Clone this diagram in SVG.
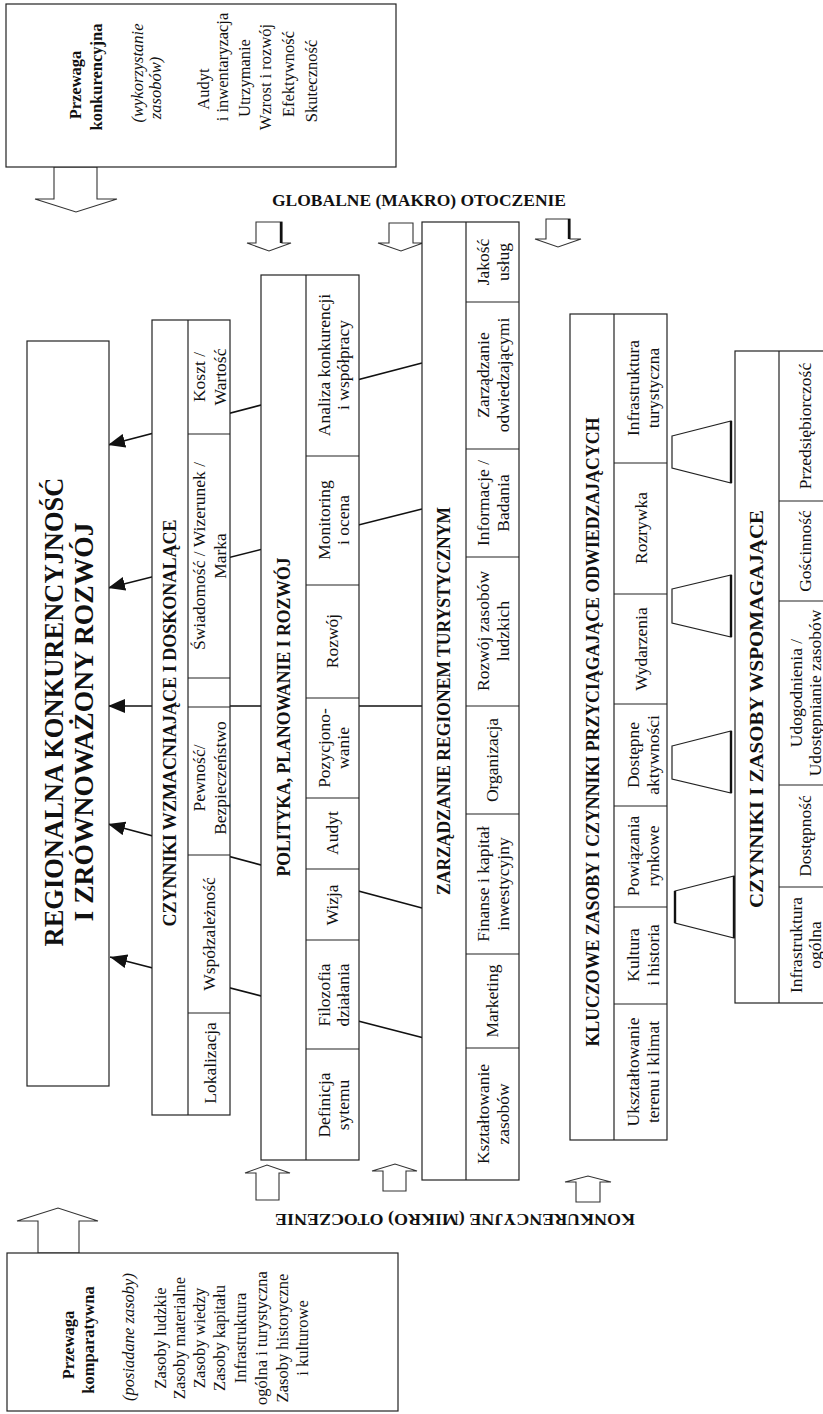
<svg xmlns="http://www.w3.org/2000/svg" width="823" height="1414" viewBox="0 0 823 1414">
  <defs>
    <style>
      text{font-family:"Liberation Serif","Times New Roman",serif;fill:#111}
      .v{text-anchor:middle;dominant-baseline:central}
      .c{font-size:17.5px}
      .s{font-size:16.5px}
      .hd{font-size:18px;font-weight:bold}
      .b{font-weight:bold}
      .it{font-style:italic}
      .box{fill:#fff;stroke:#222;stroke-width:1.2}
      .ln{fill:none;stroke:#222;stroke-width:1.2}
      .con{fill:none;stroke:#111;stroke-width:1.6}
      .blk{fill:#fff;stroke:#333;stroke-width:1.1}
      .thk{fill:none;stroke:#111;stroke-width:2.4}
    </style>
    <marker id="tip" viewBox="0 0 17 14" refX="17" refY="7" markerWidth="17" markerHeight="14" markerUnits="userSpaceOnUse" orient="auto">
      <path d="M0,0 L17,7 L0,14 z" fill="#111"/>
    </marker>
  </defs>
  <rect width="823" height="1414" fill="#fff"/>

  <!-- connectors: arrows into the main box, block arrows, trapezoid links -->
  <g id="connectors">
    <line class="con" x1="422" y1="363" x2="108" y2="445" marker-end="url(#tip)"/>
    <line class="con" x1="422" y1="509" x2="108" y2="588" marker-end="url(#tip)"/>
    <line class="con" x1="422" y1="706" x2="108" y2="706" marker-end="url(#tip)"/>
    <line class="con" x1="422" y1="908" x2="108" y2="824" marker-end="url(#tip)"/>
    <line class="con" x1="424" y1="1038" x2="110" y2="957" marker-end="url(#tip)"/>

    <!-- large block arrows -->
    <polygon class="blk" points="54,167 54,199 35,199 76,212 117,199 97,199 97,167"/>
    <polygon class="blk" points="38,1253 38,1221 17,1221 58,1208 98,1221 79,1221 79,1253"/>

    <!-- macro environment arrows (down) -->
    <polygon class="blk" points="256,222 256,243 247,243 269,251 291,243 282,243 282,222"/>
    <polygon class="blk" points="389,223 389,243 378,243 401,251 423,243 413,243 413,223"/>
    <polygon class="blk" points="546,219 546,239 535,239 558,247 581,239 570,239 570,219"/>
    <line class="thk" x1="281" y1="222" x2="281" y2="243"/>
    <line class="thk" x1="569" y1="219" x2="569" y2="239"/>

    <!-- micro environment arrows (up) -->
    <polygon class="blk" points="256,1200 256,1173 245,1173 267,1165 290,1173 279,1173 279,1200"/>
    <polygon class="blk" points="383,1191 383,1171 372,1171 395,1164 417,1171 406,1171 406,1191"/>
    <polygon class="blk" points="576,1202 576,1182 565,1182 588,1176 611,1182 600,1182 600,1202"/>

    <!-- links between key resources and supporting factors -->
    <polygon class="ln" points="672,436 731,421 731,483 672,468"/>
    <polygon class="ln" points="672,589 731,575 731,637 672,623"/>
    <polygon class="ln" points="672,746 731,731 731,793 672,779"/>
    <polygon class="ln" points="675,891 734,876 734,938 675,923"/>
    <line class="thk" x1="731" y1="421" x2="731" y2="483"/>
    <line class="thk" x1="731" y1="575" x2="731" y2="637"/>
    <line class="thk" x1="731" y1="731" x2="731" y2="793"/>
    <line class="thk" x1="734" y1="876" x2="734" y2="938"/>
    <line class="thk" x1="675" y1="891" x2="675" y2="923"/>
  </g>

  <!-- environment labels -->
  <text id="makro" x="419" y="206" text-anchor="middle" font-size="17" font-weight="bold" textLength="294" lengthAdjust="spacingAndGlyphs">GLOBALNE (MAKRO) OTOCZENIE</text>
  <text id="mikro" transform="translate(455 1214) rotate(180)" text-anchor="middle" font-size="17" font-weight="bold" textLength="360" lengthAdjust="spacingAndGlyphs">KONKURENCYJNE (MIKRO) OTOCZENIE</text>

  <!-- competitive advantage -->
  <g id="przewaga-konkurencyjna">
    <rect class="box" x="6" y="4" width="390" height="163"/>
    <text class="v s b" transform="translate(75 85) rotate(-90)">Przewaga</text>
    <text class="v s b" transform="translate(96 77) rotate(-90)">konkurencyjna</text>
    <text class="v s it" transform="translate(137 73) rotate(-90)">(wykorzystanie</text>
    <text class="v s it" transform="translate(155 88) rotate(-90)">zasobów)</text>
    <text class="v s" transform="translate(203 89) rotate(-90)">Audyt</text>
    <text class="v s" transform="translate(222 67) rotate(-90)">i inwentaryzacja</text>
    <text class="v s" transform="translate(244 78) rotate(-90)">Utrzymanie</text>
    <text class="v s" transform="translate(265 77) rotate(-90)">Wzrost i rozwój</text>
    <text class="v s" transform="translate(288 74) rotate(-90)">Efektywność</text>
    <text class="v s" transform="translate(311 81) rotate(-90)">Skuteczność</text>
  </g>

  <!-- comparative advantage -->
  <g id="przewaga-komparatywna">
    <rect class="box" x="7" y="1253" width="391" height="158"/>
    <text class="v s b" transform="translate(68 1345) rotate(-90)">Przewaga</text>
    <text class="v s b" transform="translate(88 1340) rotate(-90)">komparatywna</text>
    <text class="v s it" transform="translate(128 1337) rotate(-90)">(posiadane zasoby)</text>
    <text class="v s" transform="translate(160 1338) rotate(-90)">Zasoby ludzkie</text>
    <text class="v s" transform="translate(179 1338) rotate(-90)">Zasoby materialne</text>
    <text class="v s" transform="translate(199 1338) rotate(-90)">Zasoby wiedzy</text>
    <text class="v s" transform="translate(219 1338) rotate(-90)">Zasoby kapitału</text>
    <text class="v s" transform="translate(240 1338) rotate(-90)">Infrastruktura</text>
    <text class="v s" transform="translate(261 1338) rotate(-90)">ogólna i turystyczna</text>
    <text class="v s" transform="translate(282 1338) rotate(-90)">Zasoby historyczne</text>
    <text class="v s" transform="translate(302 1338) rotate(-90)">i kulturowe</text>
  </g>

  <!-- regional competitiveness -->
  <g id="konkurencyjnosc">
    <rect class="box" x="27" y="341" width="82" height="745"/>
    <text class="v b" font-size="27" transform="translate(54 712) rotate(-90)" textLength="469" lengthAdjust="spacingAndGlyphs">REGIONALNA KONKURENCYJNOŚĆ</text>
    <text class="v b" font-size="27" transform="translate(84 722) rotate(-90)" textLength="399" lengthAdjust="spacingAndGlyphs">I ZRÓWNOWAŻONY ROZWÓJ</text>
  </g>

  <!-- qualifying and amplifying determinants -->
  <g id="czynniki-wzmacniajace">
    <rect class="box" x="152" y="320" width="78" height="795"/>
    <line class="ln" x1="188" y1="320" x2="188" y2="1115"/>
    <line class="ln" x1="188" y1="434" x2="230" y2="434"/>
    <line class="ln" x1="188" y1="678" x2="230" y2="678"/>
    <line class="ln" x1="188" y1="707" x2="230" y2="707"/>
    <line class="ln" x1="188" y1="855" x2="230" y2="855"/>
    <line class="ln" x1="188" y1="1013" x2="230" y2="1013"/>
    <text class="v hd" transform="translate(170 723) rotate(-90)" textLength="407" lengthAdjust="spacingAndGlyphs">CZYNNIKI WZMACNIAJĄCE I DOSKONALĄCE</text>
    <text class="v c" transform="translate(199 377) rotate(-90)">Koszt /</text>
    <text class="v c" transform="translate(220 377) rotate(-90)">Wartość</text>
    <text class="v c" transform="translate(199 556) rotate(-90)">Świadomość / Wizerunek /</text>
    <text class="v c" transform="translate(220 556) rotate(-90)">Marka</text>
    <text class="v c" transform="translate(199 778) rotate(-90)">Pewność/</text>
    <text class="v c" transform="translate(220 778) rotate(-90)">Bezpieczeństwo</text>
    <text class="v c" transform="translate(209 934) rotate(-90)">Współzależność</text>
    <text class="v c" transform="translate(210 1063) rotate(-90)">Lokalizacja</text>
  </g>

  <!-- policy, planning and development -->
  <g id="polityka">
    <rect class="box" x="261" y="275" width="98" height="885"/>
    <line class="ln" x1="306" y1="275" x2="306" y2="1160"/>
    <line class="ln" x1="306" y1="456" x2="359" y2="456"/>
    <line class="ln" x1="306" y1="585" x2="359" y2="585"/>
    <line class="ln" x1="306" y1="698" x2="359" y2="698"/>
    <line class="ln" x1="306" y1="798" x2="359" y2="798"/>
    <line class="ln" x1="306" y1="869" x2="359" y2="869"/>
    <line class="ln" x1="306" y1="940" x2="359" y2="940"/>
    <line class="ln" x1="306" y1="1049" x2="359" y2="1049"/>
    <text class="v hd" transform="translate(283.5 717) rotate(-90)" textLength="319" lengthAdjust="spacingAndGlyphs">POLITYKA, PLANOWANIE I ROZWÓJ</text>
    <text class="v c" transform="translate(324 365) rotate(-90)">Analiza konkurencji</text>
    <text class="v c" transform="translate(343 365) rotate(-90)">i współpracy</text>
    <text class="v c" transform="translate(324 520) rotate(-90)">Monitoring</text>
    <text class="v c" transform="translate(343 520) rotate(-90)">i ocena</text>
    <text class="v c" transform="translate(332 641) rotate(-90)">Rozwój</text>
    <text class="v c" transform="translate(324 748) rotate(-90)">Pozycjono-</text>
    <text class="v c" transform="translate(343 748) rotate(-90)">wanie</text>
    <text class="v c" transform="translate(332 833) rotate(-90)">Audyt</text>
    <text class="v c" transform="translate(332 905) rotate(-90)">Wizja</text>
    <text class="v c" transform="translate(324 995) rotate(-90)">Filozofia</text>
    <text class="v c" transform="translate(343 995) rotate(-90)">działania</text>
    <text class="v c" transform="translate(324 1105) rotate(-90)">Definicja</text>
    <text class="v c" transform="translate(343 1105) rotate(-90)">sytemu</text>
  </g>

  <!-- destination management -->
  <g id="zarzadzanie">
    <rect class="box" x="422" y="222" width="97" height="958"/>
    <line class="ln" x1="466" y1="222" x2="466" y2="1180"/>
    <line class="ln" x1="466" y1="302" x2="519" y2="302"/>
    <line class="ln" x1="466" y1="449" x2="519" y2="449"/>
    <line class="ln" x1="466" y1="557" x2="519" y2="557"/>
    <line class="ln" x1="466" y1="706" x2="519" y2="706"/>
    <line class="ln" x1="466" y1="814" x2="519" y2="814"/>
    <line class="ln" x1="466" y1="954" x2="519" y2="954"/>
    <line class="ln" x1="466" y1="1048" x2="519" y2="1048"/>
    <text class="v hd" transform="translate(444 701) rotate(-90)" textLength="388" lengthAdjust="spacingAndGlyphs">ZARZĄDZANIE REGIONEM TURYSTYCZNYM</text>
    <text class="v c" transform="translate(483 262) rotate(-90)">Jakość</text>
    <text class="v c" transform="translate(503 262) rotate(-90)">usług</text>
    <text class="v c" transform="translate(483 375) rotate(-90)">Zarządzanie</text>
    <text class="v c" transform="translate(503 375) rotate(-90)">odwiedzającymi</text>
    <text class="v c" transform="translate(483 503) rotate(-90)">Informacje /</text>
    <text class="v c" transform="translate(503 503) rotate(-90)">Badania</text>
    <text class="v c" transform="translate(483 631) rotate(-90)">Rozwój zasobów</text>
    <text class="v c" transform="translate(503 631) rotate(-90)">ludzkich</text>
    <text class="v c" transform="translate(492 760) rotate(-90)">Organizacja</text>
    <text class="v c" transform="translate(483 884) rotate(-90)">Finanse i kapitał</text>
    <text class="v c" transform="translate(503 884) rotate(-90)">inwestycyjny</text>
    <text class="v c" transform="translate(492 1001) rotate(-90)">Marketing</text>
    <text class="v c" transform="translate(483 1114) rotate(-90)">Kształtowanie</text>
    <text class="v c" transform="translate(503 1114) rotate(-90)">zasobów</text>
  </g>

  <!-- core resources and attractors -->
  <g id="kluczowe-zasoby">
    <rect class="box" x="570" y="314" width="97" height="826"/>
    <line class="ln" x1="614" y1="314" x2="614" y2="1140"/>
    <line class="ln" x1="614" y1="463" x2="667" y2="463"/>
    <line class="ln" x1="614" y1="594" x2="667" y2="594"/>
    <line class="ln" x1="614" y1="704" x2="667" y2="704"/>
    <line class="ln" x1="614" y1="806" x2="667" y2="806"/>
    <line class="ln" x1="614" y1="907" x2="667" y2="907"/>
    <line class="ln" x1="614" y1="1004" x2="667" y2="1004"/>
    <text class="v hd" transform="translate(592.5 732) rotate(-90)" textLength="629" lengthAdjust="spacingAndGlyphs">KLUCZOWE ZASOBY I CZYNNIKI PRZYCIĄGAJĄCE ODWIEDZAJĄCYCH</text>
    <text class="v c" transform="translate(633 388) rotate(-90)">Infrastruktura</text>
    <text class="v c" transform="translate(653 388) rotate(-90)">turystyczna</text>
    <text class="v c" transform="translate(641 528) rotate(-90)">Rozrywka</text>
    <text class="v c" transform="translate(641 649) rotate(-90)">Wydarzenia</text>
    <text class="v c" transform="translate(633 755) rotate(-90)">Dostępne</text>
    <text class="v c" transform="translate(653 755) rotate(-90)">aktywności</text>
    <text class="v c" transform="translate(633 856) rotate(-90)">Powiązania</text>
    <text class="v c" transform="translate(653 856) rotate(-90)">rynkowe</text>
    <text class="v c" transform="translate(633 955) rotate(-90)">Kultura</text>
    <text class="v c" transform="translate(653 955) rotate(-90)">i historia</text>
    <text class="v c" transform="translate(633 1072) rotate(-90)">Ukształtowanie</text>
    <text class="v c" transform="translate(653 1072) rotate(-90)">terenu i klimat</text>
  </g>

  <!-- supporting factors and resources -->
  <g id="czynniki-wspomagajace">
    <rect class="box" x="735" y="351" width="100" height="652"/>
    <line class="ln" x1="779" y1="351" x2="779" y2="1003"/>
    <line class="ln" x1="779" y1="501" x2="823" y2="501"/>
    <line class="ln" x1="779" y1="601" x2="823" y2="601"/>
    <line class="ln" x1="779" y1="785" x2="823" y2="785"/>
    <line class="ln" x1="779" y1="887" x2="823" y2="887"/>
    <text class="v hd" transform="translate(757 709) rotate(-90)" textLength="398" lengthAdjust="spacingAndGlyphs">CZYNNIKI I ZASOBY WSPOMAGAJĄCE</text>
    <text class="v c" transform="translate(805 426) rotate(-90)">Przedsiębiorczość</text>
    <text class="v c" transform="translate(805 551) rotate(-90)">Gościnność</text>
    <text class="v c" transform="translate(796 693) rotate(-90)">Udogodnienia /</text>
    <text class="v c" transform="translate(815 693) rotate(-90)">Udostępnianie zasobów</text>
    <text class="v c" transform="translate(805 836) rotate(-90)">Dostępność</text>
    <text class="v c" transform="translate(796 945) rotate(-90)">Infrastruktura</text>
    <text class="v c" transform="translate(815 945) rotate(-90)">ogólna</text>
  </g>
</svg>
